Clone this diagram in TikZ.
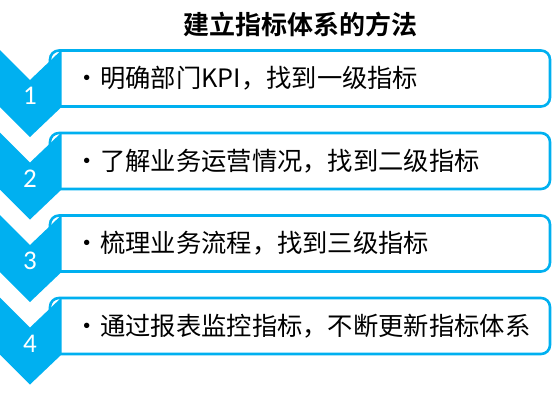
\documentclass[tikz,border=0pt]{standalone}
\usepackage{fontspec}
\usetikzlibrary{positioning}
\newfontfamily\cjk{Noto Sans CJK SC}[BoldFont={* Bold}]
\newfontfamily\numfont{Carlito}
\definecolor{stepblue}{RGB}{0,176,240}
\tikzset{
  itembox/.style={draw=stepblue,line width=2.6pt,rounded corners=9pt,
    minimum width=500pt,minimum height=56pt,inner sep=0pt},
  itemtext/.style={font=\cjk\fontsize{25.3}{30}\selectfont,inner sep=0pt,anchor=west},
  stepnum/.style={font=\numfont\fontsize{27}{30}\selectfont,text=white,inner sep=0pt},
  titletext/.style={font=\cjk\bfseries\fontsize{26}{30}\selectfont,inner sep=0pt}
}
% one row: #1 top of the box, #2 step number, #3 text
\newcommand{\stepitem}[3]{%
  \node[itembox] (box#2) at (300,#1+28.5) {};
  \fill[stepblue] (0,#1) -- (30,#1+30) -- (61.5,#1) -- (61.5,#1+57)
    -- (30,#1+87) -- (0,#1+57) -- cycle;
  \node[stepnum] (num#2) at (30,#1+46) {#2};
  \node[itemtext,right=26pt of box#2.west] (txt#2) {#3};
}
\begin{document}
\begin{tikzpicture}[x=1pt,y=-1pt]
\useasboundingbox (0,0) rectangle (553,415);
\node[titletext] (title) at (300,25) {建立指标体系的方法};
\stepitem{50}{1}{・明确部门KPI，找到一级指标}
\stepitem{132.5}{2}{・了解业务运营情况，找到二级指标}
\stepitem{215}{3}{・梳理业务流程，找到三级指标}
\stepitem{297.5}{4}{・通过报表监控指标，不断更新指标体系}
\end{tikzpicture}
\end{document}
